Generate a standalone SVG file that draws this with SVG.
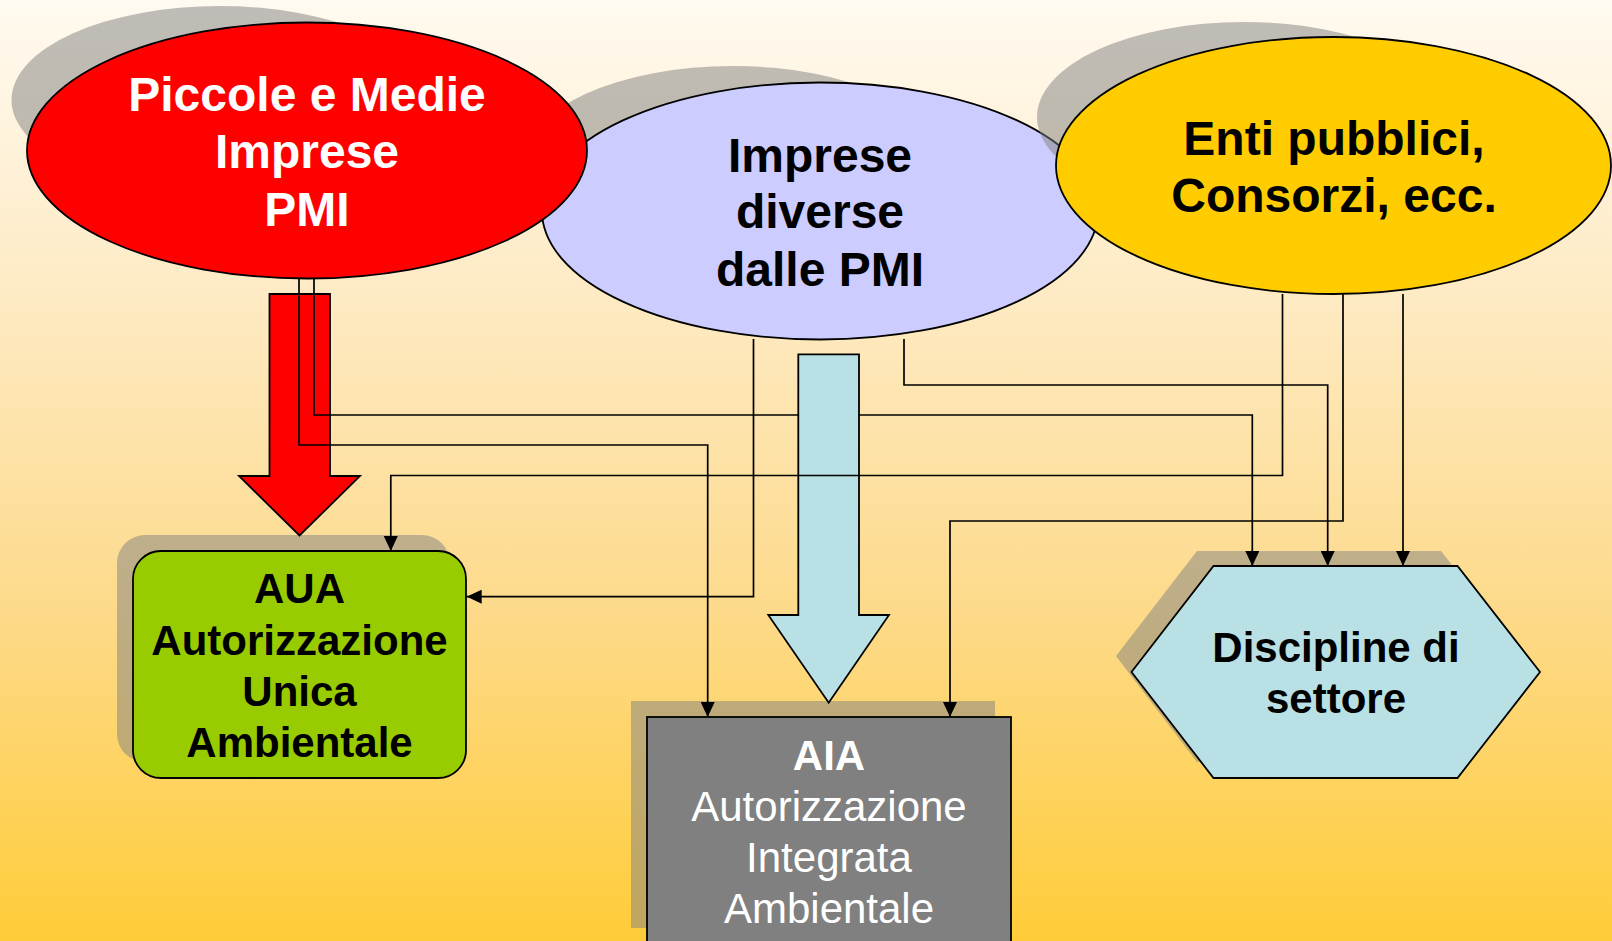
<svg xmlns="http://www.w3.org/2000/svg" width="1612" height="941" viewBox="0 0 1612 941">
<defs>
<linearGradient id="bg" x1="0" y1="0" x2="0" y2="1">
<stop offset="0" stop-color="#FFFAF0"/>
<stop offset="0.3" stop-color="#FEEBC6"/>
<stop offset="0.65" stop-color="#FDDA8A"/>
<stop offset="1" stop-color="#FFCC38"/>
</linearGradient>
<marker id="ah" markerUnits="userSpaceOnUse" markerWidth="15" markerHeight="14" refX="15" refY="7" orient="auto">
<path d="M0,0 L15,7 L0,14 z" fill="#000"/>
</marker>
<style>
.sh{fill:#808080;fill-opacity:0.5;stroke:none}
.ol{stroke:#000;stroke-width:1.8}
.t{font-family:"Liberation Sans",Arial,sans-serif;text-anchor:middle}
.b48{font-size:48px;font-weight:bold}
.b42{font-size:42px;font-weight:bold}
.r42{font-size:42px}
.c{fill:none;stroke:#000;stroke-width:1.7}
.ca{fill:none;stroke:#000;stroke-width:1.7;marker-end:url(#ah)}
</style>
</defs>
<rect x="0" y="0" width="1612" height="941" fill="url(#bg)"/>

<g id="node-imprese-diverse">
<ellipse class="sh" cx="733" cy="161" rx="208" ry="95"/>
<ellipse class="ol" cx="820" cy="211" rx="278" ry="128.5" fill="#CCCCFF"/>
<text class="t b48" x="820" y="172" fill="#000">Imprese</text>
<text class="t b48" x="820" y="228" fill="#000">diverse</text>
<text class="t b48" x="820" y="286" fill="#000">dalle PMI</text>
</g>

<g id="node-pmi">
<ellipse class="sh" cx="220" cy="100" rx="208.5" ry="94"/>
<ellipse class="ol" cx="307" cy="150.5" rx="280" ry="128" fill="#FF0000"/>
<text class="t b48" x="307" y="111" fill="#FFF">Piccole e Medie</text>
<text class="t b48" x="307" y="168" fill="#FFF">Imprese</text>
<text class="t b48" x="307" y="226" fill="#FFF">PMI</text>
</g>

<g id="node-enti">
<ellipse class="sh" cx="1244" cy="117" rx="207" ry="95"/>
<ellipse class="ol" cx="1333.5" cy="165.5" rx="277.5" ry="128.5" fill="#FFCC00"/>
<text class="t b48" x="1334" y="155" fill="#000">Enti pubblici,</text>
<text class="t b48" x="1334" y="212" fill="#000">Consorzi, ecc.</text>
</g>

<g id="node-aua">
<rect class="sh" x="117" y="535" width="333" height="227" rx="28"/>
<rect class="ol" x="133" y="551" width="333" height="227" rx="28" fill="#99CC00"/>
<text class="t b42" x="299.5" y="603" fill="#000">AUA</text>
<text class="t b42" x="299.5" y="655" fill="#000">Autorizzazione</text>
<text class="t b42" x="299.5" y="706" fill="#000">Unica</text>
<text class="t b42" x="299.5" y="757" fill="#000">Ambientale</text>
</g>

<g id="node-aia">
<rect class="sh" x="631" y="701" width="364" height="227"/>
<rect class="ol" x="647" y="717" width="364" height="235" fill="#808080"/>
<text class="t b42" x="829" y="770" fill="#FFF">AIA</text>
<text class="t r42" x="829" y="821" fill="#FFF">Autorizzazione</text>
<text class="t r42" x="829" y="872" fill="#FFF">Integrata</text>
<text class="t r42" x="829" y="923" fill="#FFF">Ambientale</text>
</g>

<g id="node-discipline">
<polygon class="sh" points="1197,551 1441,551 1524,656 1441,762 1197,762 1116,656"/>
<polygon class="ol" points="1213.5,566 1457.5,566 1540,672 1457.5,778 1213.5,778 1131.5,672" fill="#B9E0E4"/>
<text class="t b42" x="1336" y="662" fill="#000">Discipline di</text>
<text class="t b42" x="1336" y="713" fill="#000">settore</text>
</g>

<g id="connectors">
<polygon id="big-arrow-pmi-aua" class="ol" points="269.5,294 330,294 330,476 360,476 299.5,535.5 239,476 269.5,476" fill="#FF0000" stroke-width="1.6"/>
<polyline class="ca" points="299,278 299,445 707.7,445 707.7,717"/>
<polyline class="ca" points="314,278 314,415 1252.3,415 1252.3,566"/>
<polygon id="big-arrow-diverse-aia" class="ol" points="798.3,354.3 859,354.3 859,615 889,615 828.7,702.7 768.3,615 798.3,615" fill="#B9E0E4" stroke-width="1.6"/>
<polyline class="ca" points="753.5,339 753.5,596.7 466.7,596.7"/>
<polyline class="ca" points="904,339 904,385 1327.7,385 1327.7,566"/>
<polyline class="ca" points="1282.5,294 1282.5,475.5 390.8,475.5 390.8,551"/>
<polyline class="ca" points="1343,294 1343,521 950,521 950,717"/>
<polyline class="ca" points="1403,294 1403,566"/>
</g>
</svg>
